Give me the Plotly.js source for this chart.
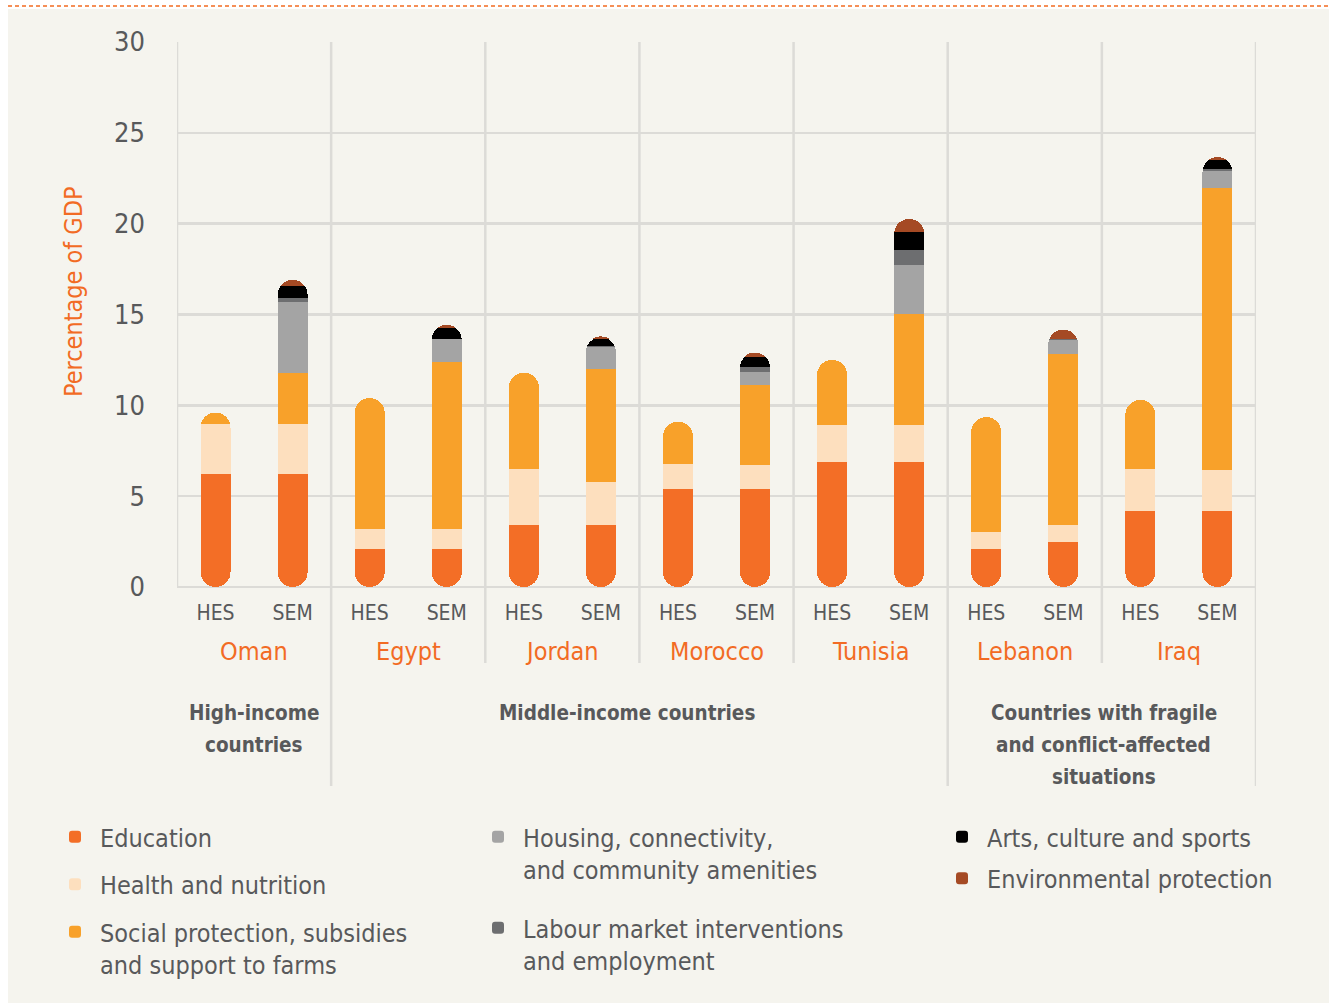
<!DOCTYPE html>
<html><head><meta charset="utf-8">
<script src="https://cdn.plot.ly/plotly-3.0.1.min.js"></script>
<style>html,body{margin:0;padding:0;background:#f5f4ee}</style>
</head><body><div id="chart" style="width:1329px;height:1005px"></div>
<script>
// ---- data (percentage of GDP) ----
const countries = ['Oman', 'Egypt', 'Jordan', 'Morocco', 'Tunisia', 'Lebanon', 'Iraq'];
const surveys = ['HES', 'SEM'];
// order: Oman HES, Oman SEM, Egypt HES, Egypt SEM, ... Iraq HES, Iraq SEM
const education     = [6.2, 6.2, 2.1, 2.1, 3.4, 3.4, 5.4, 5.4, 6.9, 6.9, 2.1, 2.5, 4.2, 4.2];
const health        = [2.75, 2.75, 1.1, 1.1, 3.1, 2.4, 1.35, 1.3, 2.0, 2.0, 0.95, 0.9, 2.3, 2.25];
const socialProt    = [0.65, 2.85, 7.2, 9.2, 5.3, 6.2, 2.35, 4.4, 3.6, 6.15, 6.3, 9.4, 3.8, 15.5];
const housing       = [0, 3.9, 0, 1.25, 0, 1.2, 0, 0.75, 0, 2.65, 0, 0.8, 0, 0.95];
const labour        = [0, 0.23, 0, 0, 0, 0.05, 0, 0.27, 0, 0.87, 0, 0.06, 0, 0.09];
const arts          = [0, 0.65, 0, 0.6, 0, 0.4, 0, 0.55, 0, 0.95, 0, 0, 0, 0.5];
const environment   = [0, 0.33, 0, 0.18, 0, 0.15, 0, 0.24, 0, 0.74, 0, 0.5, 0, 0.18];

const groupLabels = [['High-income', 'countries'], ['Middle-income countries'], ['Countries with fragile', 'and conflict-affected', 'situations']];
const groupFirst  = [0, 1, 5];   // first country index of each group
const groupLast   = [0, 4, 6];   // last country index of each group

const seriesNames = ['Education', 'Health and nutrition', 'Social protection, subsidies<br>and support to farms',
  'Housing, connectivity,<br>and community amenities', 'Labour market interventions<br>and employment',
  'Arts, culture and sports', 'Environmental protection'];
const seriesColors = ['#f36e26', '#fddfbe', '#f8a12a', '#a4a4a4', '#6d6e70', '#000000', '#a54a24'];

// ---- derived positions ----
const xPos = [], xText = [];
countries.forEach((c, i) => surveys.forEach((s, j) => { xPos.push(i * 2 + 0.5 + j); xText.push(s); }));

const FONT = 'Liberation Sans Narrow, DejaVu Sans Condensed, Roboto, sans-serif';
const GREY = '#58595b', ORANGE = '#f26b24', GRID = '#dcdbd7', BG = '#f5f4ee';
const BW = 0.39;
const YMAX = 30;

const traces = [];
// Education: drawn on a mirrored (top-down) axis so that its rounded end sits on the baseline
traces.push({type: 'bar', x: xPos, y: education.map(v => YMAX - v), yaxis: 'y2', width: BW, showlegend: false,
  marker: {color: 'rgba(0,0,0,0)', line: {width: 0}}, hoverinfo: 'skip'});
traces.push({type: 'bar', x: xPos, y: education, yaxis: 'y2', width: BW, name: seriesNames[0],
  marker: {color: seriesColors[0], line: {width: 0}}, legend: 'legend', legendgroup: 'g0', hoverinfo: 'skip'});
// invisible placeholder so the rest of the stack sits on top of education
traces.push({type: 'bar', x: xPos, y: education, width: BW, showlegend: false,
  marker: {color: 'rgba(0,0,0,0)', line: {width: 0}}, hoverinfo: 'skip'});
const rest = [health, socialProt, housing, labour, arts, environment];
const legendOf = ['legend', 'legend', 'legend2', 'legend2', 'legend3', 'legend3'];
rest.forEach((arr, k) => {
  traces.push({type: 'bar', x: xPos, y: arr, width: BW, name: seriesNames[k + 1],
    marker: {color: seriesColors[k + 1], line: {width: 0}}, legend: legendOf[k], legendgroup: 'g' + (k + 1)});
});

// ---- layout helpers ----
const L = 177, R = 73, T = 42, B = 418, W = 1329, H = 1005;
const PW = W - L - R, PH = H - T - B;
const px = p => (p - L) / PW;          // pixel x -> paper
const py = p => (H - B - p) / PH;      // pixel y -> paper

const shapes = [];
// white page margin and dashed rule
shapes.push({type: 'rect', xref: 'paper', yref: 'paper', x0: px(0), x1: px(8), y0: py(H), y1: py(0), fillcolor: '#ffffff', line: {width: 0}, layer: 'below'});
shapes.push({type: 'rect', xref: 'paper', yref: 'paper', x0: px(0), x1: px(W), y0: py(9), y1: py(0), fillcolor: '#ffffff', line: {width: 0}, layer: 'below'});
shapes.push({type: 'rect', xref: 'paper', yref: 'paper', x0: px(0), x1: px(W), y0: py(H), y1: py(1003), fillcolor: '#ffffff', line: {width: 0}, layer: 'below'});
shapes.push({type: 'line', xref: 'paper', yref: 'paper', x0: px(8), x1: px(W), y0: py(6), y1: py(6), line: {color: '#f26b21', width: 1.5, dash: '4px,3px'}});
// vertical separators between countries
const groupEnds = groupLast.map(v => (v + 1) * 2);
for (let i = 0; i <= countries.length; i++) {
  const xb = i * 2;
  let yb = 0;
  if (i > 0) yb = groupEnds.includes(xb) ? py(786) : py(663);
  shapes.push({type: 'line', xref: 'x', yref: 'paper', x0: xb, x1: xb, y0: yb, y1: 1, line: {color: GRID, width: 2.5}, layer: 'below'});
}

const annotations = [];
countries.forEach((c, i) => annotations.push({xref: 'x', yref: 'paper', x: i * 2 + 1, y: py(651), text: c, showarrow: false,
  font: {family: FONT, size: 25, color: ORANGE}, xanchor: 'center', yanchor: 'middle'}));
const groupShift = [0, -12, 2];
groupLabels.forEach((lines, k) => {
  lines.forEach((line, n) => {
    annotations.push({xref: 'x', yref: 'paper', x: groupFirst[k] * 2 + (groupLast[k] - groupFirst[k] + 1), y: py(713 + 32 * n),
      xshift: groupShift[k], text: '<b>' + line + '</b>', showarrow: false, align: 'center',
      font: {family: FONT, size: 20.5, color: GREY}, xanchor: 'center', yanchor: 'middle'});
  });
});
annotations.push({xref: 'paper', yref: 'paper', x: px(73), y: py(292), text: 'Percentage of GDP', textangle: -90, showarrow: false,
  font: {family: FONT, size: 25, color: ORANGE}, xanchor: 'center', yanchor: 'middle'});

const legendBase = {bgcolor: 'rgba(0,0,0,0)', borderwidth: 0, font: {family: FONT, size: 25, color: GREY},
  xanchor: 'left', yanchor: 'top', valign: 'top', traceorder: 'grouped', itemwidth: 40, orientation: 'v'};

const layout = {
  width: W, height: H,
  margin: {l: L, r: R, t: T, b: B},
  paper_bgcolor: BG, plot_bgcolor: BG,
  barmode: 'stack', barcornerradius: 15,
  showlegend: true,
  legend:  Object.assign({}, legendBase, {x: px(50), y: py(814), tracegroupgap: 12}),
  legend2: Object.assign({}, legendBase, {x: px(473), y: py(814), tracegroupgap: 23}),
  legend3: Object.assign({}, legendBase, {x: px(937), y: py(814), tracegroupgap: 6}),
  xaxis: {range: [0, countries.length * 2], tickvals: xPos, ticktext: xText, showgrid: false, zeroline: false,
    showline: false, ticks: '', ticklabelstandoff: 11, automargin: false, tickfont: {family: FONT, size: 21, color: GREY}, fixedrange: true},
  yaxis: {range: [0, YMAX], tickvals: [0, 5, 10, 15, 20, 25, 30], showgrid: true, gridcolor: GRID, gridwidth: 2.5,
    zeroline: true, zerolinecolor: GRID, zerolinewidth: 2.5, showline: false, ticks: '', ticklabelstandoff: 31, automargin: false,
    tickfont: {family: FONT, size: 27, color: GREY}, fixedrange: true},
  yaxis2: {range: [YMAX, 0], overlaying: 'y', showgrid: false, zeroline: false, showticklabels: false, showline: false, fixedrange: true},
  shapes: shapes,
  annotations: annotations
};

Plotly.newPlot('chart', traces, layout, {displayModeBar: false, staticPlot: true});
</script>
</body></html>
